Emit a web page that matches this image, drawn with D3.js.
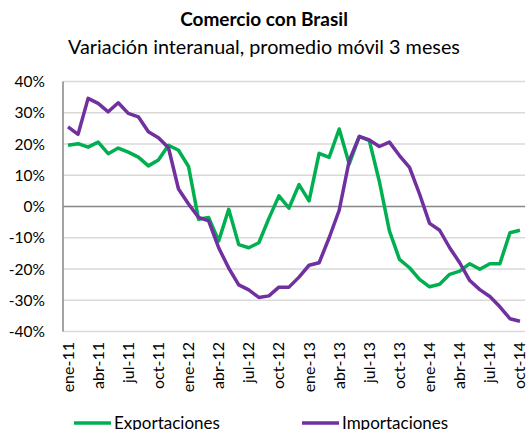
<!DOCTYPE html>
<html>
<head>
<meta charset="utf-8">
<script src="https://cdn.jsdelivr.net/npm/d3@7"></script>
<style>
  body { margin: 0; background: #fff; }
  text { font-family: Lato, "Open Sans", sans-serif; fill: #000; }
</style>
</head>
<body>
<script>
// monthly data, ene-11 .. oct-14
var months = ["ene","feb","mar","abr","may","jun","jul","ago","sep","oct","nov","dic"];
var categories = [];
for (var y = 11; y <= 14; y++) {
  months.forEach(function(m, k){
    if (y == 14 && k > 9) return;
    categories.push(m + "-" + y);
  });
}

var exportaciones = [19.6, 20.1, 19.0, 20.6, 16.9, 18.7, 17.4, 15.8, 13.0, 14.9,
  19.6, 18.0, 12.8, -4.1, -3.5, -11.0, -0.9, -12.2, -13.2, -11.6,
  -3.8, 3.4, -0.5, 7.0, 1.8, 17.0, 15.7, 24.8, 13.6, 22.4,
  21.1, 8.0, -7.8, -16.9, -19.6, -23.3, -25.7, -24.9, -21.7, -20.7,
  -18.3, -20.1, -18.3, -18.3, -8.4, -7.6];

var importaciones = [25.5, 23.1, 34.6, 33.0, 30.3, 33.2, 29.8, 28.7, 23.9, 22.0,
  18.8, 5.6, 0.8, -3.5, -4.6, -13.2, -19.7, -25.1, -26.7, -29.1,
  -28.6, -25.8, -25.8, -22.6, -18.8, -18.0, -10.0, -1.2, 14.7, 22.4,
  21.3, 19.2, 20.6, 16.3, 12.5, 4.0, -5.4, -7.6, -13.2, -18.0,
  -23.7, -26.6, -28.8, -32.1, -35.9, -36.7];

var yTicks = [40, 30, 20, 10, 0, -10, -20, -30, -40];
var xTickLabels = categories.filter(function(d, i){ return i % 3 == 0; });

var series = [
  {name: "Exportaciones", values: exportaciones, color: "#00B050"},
  {name: "Importaciones", values: importaciones, color: "#7030A0"}
];

var W = 528, H = 430;
var margin = {left: 63, right: 3, top: 81.5, bottom: 98.5};

var svg = d3.select("body").append("svg").attr("width", W).attr("height", H);

var x = d3.scalePoint().domain(categories)
  .range([margin.left, W - margin.right]).padding(0.5);
var yScale = d3.scaleLinear().domain([-40, 40])
  .range([H - margin.bottom, margin.top]);

// gridlines
svg.append("g").selectAll("line").data(yTicks.filter(d => d != 0)).join("line")
  .attr("x1", margin.left).attr("x2", W - margin.right)
  .attr("y1", d => yScale(d)).attr("y2", d => yScale(d))
  .attr("stroke", "#D9D9D9").attr("stroke-width", 1.3);

// y axis labels
svg.append("g").selectAll("text").data(yTicks).join("text")
  .attr("x", 45).attr("y", d => yScale(d) + 5.5)
  .attr("text-anchor", "end").attr("font-size", 15.5)
  .text(d => d + "%");

// left axis line
svg.append("line")
  .attr("x1", margin.left).attr("x2", margin.left)
  .attr("y1", yScale(40)).attr("y2", yScale(-40))
  .attr("stroke", "#868686").attr("stroke-width", 1.5);

// zero line (category axis)
svg.append("line")
  .attr("x1", margin.left).attr("x2", W - margin.right)
  .attr("y1", yScale(0)).attr("y2", yScale(0))
  .attr("stroke", "#868686").attr("stroke-width", 1.5);

// x labels, rotated
svg.append("g").selectAll("text").data(xTickLabels).join("text")
  .attr("transform", d => "translate(" + (x(d) + 5.5) + "," + 342 + ") rotate(-90)")
  .attr("text-anchor", "end").attr("font-size", 16)
  .text(d => d);

// lines
var line = d3.line()
  .x((d, i) => x(categories[i]))
  .y(d => yScale(d));

svg.append("g").selectAll("path").data(series).join("path")
  .attr("d", d => line(d.values))
  .attr("fill", "none")
  .attr("stroke", d => d.color)
  .attr("stroke-width", 3.5)
  .attr("stroke-linejoin", "round");

// titles
svg.append("text").attr("x", 264).attr("y", 26)
  .attr("text-anchor", "middle").attr("font-size", 19).attr("font-weight", "bold")
  .text("Comercio con Brasil");
svg.append("text").attr("x", 264).attr("y", 54)
  .attr("text-anchor", "middle").attr("font-size", 19.8)
  .text("Variación interanual, promedio móvil 3 meses");

// legend
var legX = [74, 302];
var leg = svg.append("g").selectAll("g").data(series).join("g")
  .attr("transform", (d, i) => "translate(" + legX[i] + ",423)");
leg.append("line").attr("x1", 0).attr("x2", 37)
  .attr("stroke", d => d.color).attr("stroke-width", 3.5);
leg.append("text").attr("x", 40).attr("y", 6).attr("font-size", 17)
  .text(d => d.name);
</script>
</body>
</html>
